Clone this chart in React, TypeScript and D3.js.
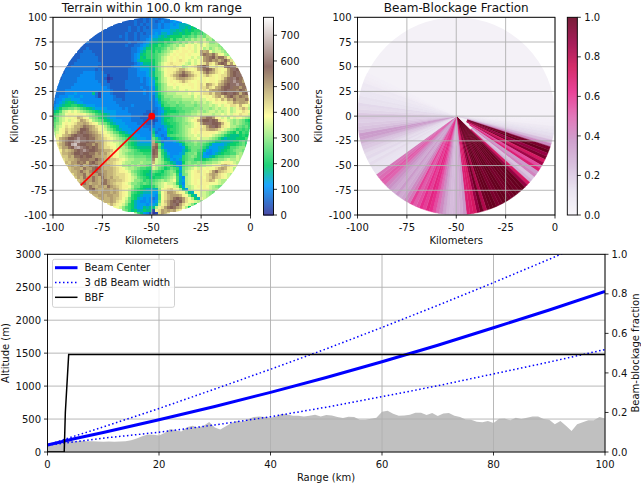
import React from "react";
import * as d3 from "d3";

// Terrain grid: one base-32 digit per cell, each step = 25 m. Rows run north to south.
// West half reads edge -> radar meridian; east half reads radar meridian -> edge.
const terrainWest: string[] = [
  "222323", "2222322323", "2222222323233", "222222232232323", "22222222232232333",
  "2222222222322323233", "22222222232322323334", "222222222222322323345", "23222222222222232233456",
  "222222222222222322334567", "2223222222222222223345688", "2233322222222222223346799",
  "22333332222222222223457899", "222333333222222222223458799", "2223333333222222222223468888",
  "2233333333322222222222345777", "22333333333222222222223446667", "233333333332322222222233345556",
  "233333344443332222222233344456", "2333333444443333122222233344456", "2333334444443332012222233334345",
  "3333334444444333122222333334345", "33333344444444433322222333333345", "33333444444444444322222333334334",
  "33344444444444444432222233333434", "333344454444473144432222333333434", "334445544544443144443222333333334",
  "344566555444444444443332333333334", "345678765544444444444333333333333", "456788998765554444444433334333333",
  "568aabbcba98765555444443433333333", "78adefefedcba98765555444433333322", "9acdfggfggfedca987655444443333222",
  "9bdefgfgjigfdcb987655444443332221", "abdefegfhkjhfdcba8765554443333222", "bcdfgfghjjkjhgfdcb976555444433322",
  "bdefhghjjkmlkjhgfdb98755544444333", "cdfgihijknnmkjigfecb9765554444443", "defgjhjkmnomlkjhgfedba87655544444",
  "dgfijkmnoonnmlkjhgfedca9876554444", "fgjklnnoqoonmmkjihgfedcba87655544", "gikmnoqroonmmkkjhgfeedcb98765555",
  "hjkmnrsonnmmkmkjhgffedcb98766666", "gikkmnqrponmnmkjhhgfeddca9877777", "gjijkmnoqonnmlkjjigfeddcba98888",
  "hjjklnnonnmmkljkihgfedcbbaaa999", "hiikjmmnmnnlkkjjihgfeedccbbbbaa", "hijjklmmmllnlkjjiihgfeddccccbb",
  "gjikkmlmjmnlkkjiihgfeddcccdccc", "hjkjkmjkmlmkkjjihgfddcdcdccba", "ijkkjmkkmnmkjjjihgfeddcbaa99",
  "ijjkmkjlmmlkkjjihggfecba9887", "hjkkmjkkkmlkjjihhhgfdca9877", "ikjmkkmkjmkjkiihhgfedba987",
  "ijkkkmkjlmkjjiihgfeccb9a9", "jkmkjkkjmmkjihhgfeccbaba9", "jkkmkjkkjmkjihggfdbb9888",
  "kkmnkjjkkjkjhgfeca98766", "jkkjkkkjkjhgfda987666", "jjkkjkkjjhgfd9876555", "ijkjjkjihfeb9865454",
  "ijjkjhgfdb8654454", "hjhgfec98655545", "ffeca98655767", "cb97866877", "c97542",
];
const terrainEast: string[] = [
  "332334", "3234334544", "3343445456667", "334344555667687", "44455566767878998",
  "4546656778788a9a9bc", "5567678888a9abaccbdd", "667788a8abacbdcddecdb", "7788a9abcbdcedfedfeccdb",
  "88a9abcdcedfgfefefedddcb", "899abdcdefgfgfeffdecdedcc", "8a9bcdefgfggfgefkjkfdeedc",
  "9abcdefgfggfgfffkmlkmjgfdc", "9abdefgfgfgffefefklmnkmmjfd", "8abdefgfghgfefefgklmkljlnkhe",
  "8acefghgggfedfefghkhgjmnmhkf", "7acefgghgfdefghkmnlgfhfgmnomh", "6acefggghjjhgfgjkmnmkhgfgkmonj",
  "7abdfgghjkmkjhgghkmkjhgfhkmnom", "7abdfghjkmnmkjhgfhjhgfghhkmnoon", "68bdefghjkkjihgffgfggfghkmopnml",
  "59bdefgfghjhgffgfgfggfhjlmoqomk", "58acdffgffgfggfghgkjhgjkmnooqomk", "47acdeefeffffgfghhjhgjkmnnommkmo",
  "47acdeeeeffefffgghgjkklmnommlnmk", "469bcdddeeeefeffghhjhkkmnmonmjmnk", "368acccdddeeedfeffgfhjkhkmnlkmlkh",
  "357abbccccddddeeeefgfhgjhkjmkkkmj", "3469abbbcbcccdcddedefgfgfhhkjkkjg", "3458aabbabbcccbcdddedefegfhhgjgfe",
  "33468899aabbbbcccddcdedeefdeghjhd", "234578889aabbccddcdeededefdeffhgf", "234689aaabbccddeeeeedeefefegfhgge",
  "1346889abbcdeefgkkmmkgfefdfegfedc", "1246899abbcdefgjmnnonmhgfedcdcb98", "24467899abccdefgkmoonnmjgfdcdcba9",
  "34446789abcddefgghkmonlhgfddcbab9", "64345899abcdefgghhjkkjhgedcb9a9a9", "73444889abcdefgfgggggfedca98b8a9a",
  "954349aabbcdeefefggfedcb98777898a", "b96434789abcdeefeeedcb976777888ab", "j8734445689bbcdcccba977666788ab9",
  "kmb74444457abbcbba97555567889ab9", "mna644444458abbba975556678aabccb", "nmc9644444679bba9754556789abccb",
  "nmd97544456abbc98544567899aacdc", "mlda7645559abcb9755679aabbccedc", "ledb8754569abb99889abbccdedded",
  "jedca976448bcbbcbbccddefggfedd", "gdcb9a9754abccdcddeefggijhgfe", "edba89ba95bcdefegfgffhjkjgfd",
  "ba98abcb86bdefghfgfhkmjihgfd", "9889abcd95bcefggfghjkjhgfed", "899abcdea64defgggfhikihgfe",
  "abcdcdefa65defgfgghjifedd", "bcdefeed964defgfgggfffedc", "9bdefgfed85ddefgfgfedcbb",
  "66cfghigfd75defffggeddc", "55bfhkkjhgfc76ffeedcb", "54afhjkkkjgfc86feedc", "34afhjkmnmkhfd86fed",
  "45bgikmnonkhfgedc", "56dghkmonkhfec9", "7dghkmnmkjfd8", "1ghkjkjkhg", "01hkjh",
];

// Beam-blockage fraction per 2-degree sector, clockwise from due east.
const bbfSectors: number[] = [
  .02, .03, .04, .07, .1, .13, .16, .24, .4, .95, 1, .88, .95, .72, .85, .55, .68, .35, .42, .22, .28, .72, .88,
  1, 1, .98, 1, .97, .96, 1, 1, .97, .95, 1, 1, .98, .82, .98, .88, .72, .7, .68, .36, .3, .28,
  .25, .24, .26, .32, .4, .47, .55, .62, .65, .58, .62, .55, .52, .58, .45, .4, .32, .3, .35, .3, .33, .38, .42, .5, .52, .48, .45,
  .1, .11, .12, .14, .12, .15, .14, .17, .2, .22, .28, .34, .35, .26, .22, .2, .18, .2,
  .2, .16, .14, .15, .11, .12, .09, .09, .07, .08, .05, .04, .03,
];
// Range (km) at which the blockage of a sector begins.
const bbfStarts: number[] = [
  0, 0, 0, 0, 0, 0, 0, 12, 12, 12, 12, 12, 12, 12, 12, 16, 16, 20, 20, 20, 20, 20, 0,
  0, 0, 0, 0, 0, 0, 0, 0, 0, 0, 0, 0, 0, 0, 0, 0, 0, 0, 0, 0, 0, 30,
];

const profileHeights: number[] = [
  130, 135, 145, 170, 175, 160, 170, 165, 165, 160, 155, 160, 155, 160, 165, 180, 205, 240, 265, 260,
  250, 290, 350, 330, 310, 375, 400, 370, 400, 455, 370, 340, 390, 440, 470, 460, 500, 530, 540, 530,
  520, 540, 580, 570, 550, 550, 540, 550, 565, 540, 560, 555, 530, 515, 535, 530, 490, 490, 505, 520,
  610, 625, 580, 550, 555, 565, 595, 595, 560, 590, 545, 585, 590, 550, 530, 495, 490, 460, 450, 470,
  440, 505, 510, 480, 520, 500, 520, 540, 540, 500, 490, 420, 470, 400, 320, 420, 450, 480, 480, 530, 510,
];
const beamRanges: number[] = [0, 5, 10, 20, 30, 40, 50, 60, 70, 80, 90, 100];
const beamCenter: number[] = [105, 205, 295, 490, 690, 905, 1130, 1370, 1620, 1885, 2155, 2435];
const beamUpper: number[] = [105, 245, 380, 660, 955, 1255, 1565, 1890, 2225, 2570, 2925, 3295];
const beamLower: number[] = [105, 155, 210, 300, 410, 535, 680, 840, 1005, 1185, 1365, 1555];
const bbfRange: number[] = [0, 3, 3.2, 3.8, 100];
const bbfValues: number[] = [0, 0, 0.2, 0.493, 0.493];

const mapXTicks = [-100, -75, -50, -25, 0];
const mapYTicks = [100, 75, 50, 25, 0, -25, -50, -75, -100];
const terrainCbTicks = [0, 100, 200, 300, 400, 500, 600, 700];
const bbfCbTicks = [0, 0.2, 0.4, 0.6, 0.8, 1];
const rangeTicks = [0, 20, 40, 60, 80, 100];
const altTicks = [0, 500, 1000, 1500, 2000, 2500, 3000];
const fracTicks = [0, 0.2, 0.4, 0.6, 0.8, 1];
const rayEnd = { x: -86, y: -70 };
const terrainMax = 770;
const terrainCells = 66;

const terrainColor = d3
  .scaleLinear<string>()
  .domain([0, 0.15, 0.25, 0.5, 0.75, 1].map((d) => d * terrainMax))
  .range(["rgb(51,51,153)", "rgb(0,153,255)", "rgb(0,204,102)", "rgb(255,255,153)", "rgb(128,92,84)", "rgb(255,255,255)"]);
const purd9 = d3.schemePuRd[9] as string[];
const purdColor = d3
  .scaleLinear<string>()
  .domain(purd9.map((_, i) => i / 8))
  .range(purd9);

const FONT = "'DejaVu Sans', sans-serif";
const TXT = "#111";

function MapAxes({ left, title, children, labelX }: any) {
  const w = 197.5;
  const x = d3.scaleLinear().domain([-100, 0]).range([left, left + w]);
  const y = d3.scaleLinear().domain([-100, 100]).range([215, 17.3]);
  return (
    <g>
      {children(x, y)}
      {mapXTicks.map((t) => <line key={t} x1={x(t)} x2={x(t)} y1={17.3} y2={215} stroke="#b0b0b0" strokeWidth={0.9} />)}
      {mapYTicks.map((t) => <line key={t} x1={left} x2={left + w} y1={y(t)} y2={y(t)} stroke="#b0b0b0" strokeWidth={0.9} />)}
      <rect x={left} y={17.3} width={w} height={197.7} fill="none" stroke="#000" strokeWidth={0.9} />
      {mapXTicks.map((t) => (
        <g key={t}>
          <line x1={x(t)} x2={x(t)} y1={215} y2={218.5} stroke="#000" strokeWidth={0.8} />
          <text x={x(t)} y={230.5} textAnchor="middle" fontSize={10} fill={TXT}>{t}</text>
        </g>
      ))}
      {mapYTicks.map((t) => (
        <g key={t}>
          <line x1={left - 3.5} x2={left} y1={y(t)} y2={y(t)} stroke="#000" strokeWidth={0.8} />
          <text x={left - 6} y={y(t) + 3.6} textAnchor="end" fontSize={10} fill={TXT}>{t}</text>
        </g>
      ))}
      <text x={left + w / 2} y={11.5} textAnchor="middle" fontSize={12} fill={TXT}>{title}</text>
      <text x={left + w / 2} y={244} textAnchor="middle" fontSize={10} fill={TXT}>Kilometers</text>
      <text transform={`translate(${labelX},116) rotate(-90)`} textAnchor="middle" fontSize={10} fill={TXT}>Kilometers</text>
    </g>
  );
}

function Colorbar({ left, color, max, ticks, fmt }: any) {
  const y = d3.scaleLinear().domain([0, max]).range([215, 17.3]);
  const steps = d3.range(0, 198);
  return (
    <g>
      {steps.map((i) => (
        <rect key={i} x={left} y={17.3 + i} width={10} height={1.3}
          fill={color(max * (1 - (i + 0.5) / 197.7))} />
      ))}
      <rect x={left} y={17.3} width={10} height={197.7} fill="none" stroke="#000" strokeWidth={0.9} />
      {ticks.map((t: number) => (
        <g key={t}>
          <line x1={left + 10} x2={left + 13.5} y1={y(t)} y2={y(t)} stroke="#000" strokeWidth={0.8} />
          <text x={left + 17} y={y(t) + 3.6} fontSize={10} fill={TXT}>{fmt(t)}</text>
        </g>
      ))}
    </g>
  );
}

export default function App() {
  const rPx = d3.scaleLinear().domain([0, 100]).range([0, 98.8]);

  const rx = d3.scaleLinear().domain([0, 100]).range([47.5, 605]);
  const ay = d3.scaleLinear().domain([0, 3000]).range([452, 254.3]);
  const fy = d3.scaleLinear().domain([0, 1]).range([452, 254.3]);
  const beamLine = (vals: number[]) =>
    d3.line<number>().x((_, i) => rx(beamRanges[i])).y((d) => ay(d))(vals) as string;
  const profileArea = d3.area<number>().x((_, i) => rx(i)).y0(ay(0)).y1((d) => ay(d))(profileHeights) as string;
  const bbfLine = d3.line<number>().x((_, i) => rx(bbfRange[i])).y((d) => fy(d))(bbfValues) as string;
  const legendRows = [
    { label: "Beam Center", color: "#0000ff", w: 3, dash: undefined as string | undefined },
    { label: "3 dB Beam width", color: "#0000ff", w: 1.5, dash: "1.5 2.5" },
    { label: "BBF", color: "#000", w: 1.5, dash: undefined },
  ];
  const ticksFmt = d3.format(".1f");

  return (
    <svg width={641} height={483} style={{ position: "absolute", left: 0, top: 0, background: "#fff" }} fontFamily={FONT}>
      <defs>
        <clipPath id="plotClip"><rect x={47.5} y={254.3} width={557.5} height={197.7} /></clipPath>
      </defs>

      <MapAxes left={53} title="Terrain within 100.0 km range" labelX={17.5}>
        {(x: any, y: any) => {
          const cx = x(-50);
          const cy = y(0);
          const cellW = (x(0) - x(-100)) / terrainCells;
          const cellH = (y(-100) - y(100)) / terrainCells;
          const cell = (r: number, col: number, ch: string, key: string) => (
            <rect key={key} x={x(-100) + col * cellW} y={y(100) + r * cellH}
              width={cellW + 0.4} height={cellH + 0.4}
              fill={terrainColor(parseInt(ch, 32) * 25)} />
          );
          return (
            <g>
              <clipPath id="terrainClip"><circle cx={cx} cy={cy} r={98.8} /></clipPath>
              <g clipPath="url(#terrainClip)" shapeRendering="crispEdges">
                {terrainWest.map((row, r) =>
                  row.split("").map((ch, c) => cell(r, terrainCells / 2 - row.length + c, ch, `w${r}-${c}`)))}
                {terrainEast.map((row, r) =>
                  row.split("").map((ch, c) => cell(r, terrainCells / 2 + c, ch, `e${r}-${c}`)))}
              </g>
            </g>
          );
        }}
      </MapAxes>
      <MapAxes left={357.5} title="Beam-Blockage Fraction" labelX={322}>
        {(x: any, y: any) => {
          const cx = x(-50);
          const cy = y(0);
          const arc = d3.arc();
          const toRad = (a: number) => ((a + 90) * Math.PI) / 180;
          return (
            <g transform={`translate(${cx},${cy})`}>
              <circle r={rPx(100)} fill={purdColor(0.02)} />
              {bbfSectors.map((v, i) => {
                const a = i * 2;
                const d = arc({
                  innerRadius: rPx(bbfStarts[i] ?? 0),
                  outerRadius: rPx(100),
                  startAngle: toRad(a),
                  endAngle: toRad(a + 2),
                }) as string;
                return <path key={i} d={d} fill={purdColor(v)} stroke={purdColor(v)} strokeWidth={0.4} />;
              })}
            </g>
          );
        }}
      </MapAxes>

      {/* radar ray and site drawn above the grid */}
      {(() => {
        const x = d3.scaleLinear().domain([-100, 0]).range([53, 250.5]);
        const y = d3.scaleLinear().domain([-100, 100]).range([215, 17.3]);
        return (
          <g>
            <line x1={x(-50)} y1={y(0)} x2={x(rayEnd.x)} y2={y(rayEnd.y)} stroke="#ff0000" strokeWidth={1.6} />
            <circle cx={x(-50)} cy={y(0)} r={3.4} fill="#ff0000" />
          </g>
        );
      })()}

      <Colorbar left={263.5} color={terrainColor} max={terrainMax} ticks={terrainCbTicks} fmt={(t: number) => String(t)} />
      <Colorbar left={567.3} color={purdColor} max={1} ticks={bbfCbTicks} fmt={ticksFmt} />

      {/* bottom panel */}
      <path d={profileArea} fill="#c0c0c0" />
      {rangeTicks.map((t) => <line key={t} x1={rx(t)} x2={rx(t)} y1={254.3} y2={452} stroke="#b0b0b0" strokeWidth={0.9} />)}
      {altTicks.map((t) => <line key={t} x1={47.5} x2={605} y1={ay(t)} y2={ay(t)} stroke="#b0b0b0" strokeWidth={0.9} />)}
      <g clipPath="url(#plotClip)" fill="none">
        <path d={beamLine(beamUpper)} stroke="#0000ff" strokeWidth={1.5} strokeDasharray="1.5 2.5" />
        <path d={beamLine(beamLower)} stroke="#0000ff" strokeWidth={1.5} strokeDasharray="1.5 2.5" />
        <path d={beamLine(beamCenter)} stroke="#0000ff" strokeWidth={3} />
        <path d={bbfLine} stroke="#000" strokeWidth={1.5} />
      </g>
      <rect x={47.5} y={254.3} width={557.5} height={197.7} fill="none" stroke="#000" strokeWidth={0.9} />
      {rangeTicks.map((t) => (
        <g key={t}>
          <line x1={rx(t)} x2={rx(t)} y1={452} y2={455.5} stroke="#000" strokeWidth={0.8} />
          <text x={rx(t)} y={467.5} textAnchor="middle" fontSize={10} fill={TXT}>{t}</text>
        </g>
      ))}
      {altTicks.map((t) => (
        <g key={t}>
          <line x1={44} x2={47.5} y1={ay(t)} y2={ay(t)} stroke="#000" strokeWidth={0.8} />
          <text x={41} y={ay(t) + 3.6} textAnchor="end" fontSize={10} fill={TXT}>{t}</text>
        </g>
      ))}
      {fracTicks.map((t) => (
        <g key={t}>
          <line x1={605} x2={608.5} y1={fy(t)} y2={fy(t)} stroke="#000" strokeWidth={0.8} />
          <text x={611.5} y={fy(t) + 3.6} fontSize={10} fill={TXT}>{ticksFmt(t)}</text>
        </g>
      ))}
      <text x={326} y={480.5} textAnchor="middle" fontSize={10} fill={TXT}>Range (km)</text>
      <text transform="translate(9,353) rotate(-90)" textAnchor="middle" fontSize={10} fill={TXT}>Altitude (m)</text>
      <text transform="translate(639,353) rotate(-90)" textAnchor="middle" fontSize={10} fill={TXT}>Beam-blockage fraction</text>

      {/* legend */}
      <rect x={52.5} y={259.3} width={122} height={48} rx={2} fill="#fff" fillOpacity={0.8} stroke="#cccccc" strokeWidth={0.9} />
      {legendRows.map((row, i) => (
        <g key={row.label}>
          <line x1={55} x2={77.5} y1={267.7 + i * 14.8} y2={267.7 + i * 14.8} stroke={row.color} strokeWidth={row.w} strokeDasharray={row.dash} />
          <text x={84.5} y={271.2 + i * 14.8} fontSize={10} fill={TXT}>{row.label}</text>
        </g>
      ))}
    </svg>
  );
}
